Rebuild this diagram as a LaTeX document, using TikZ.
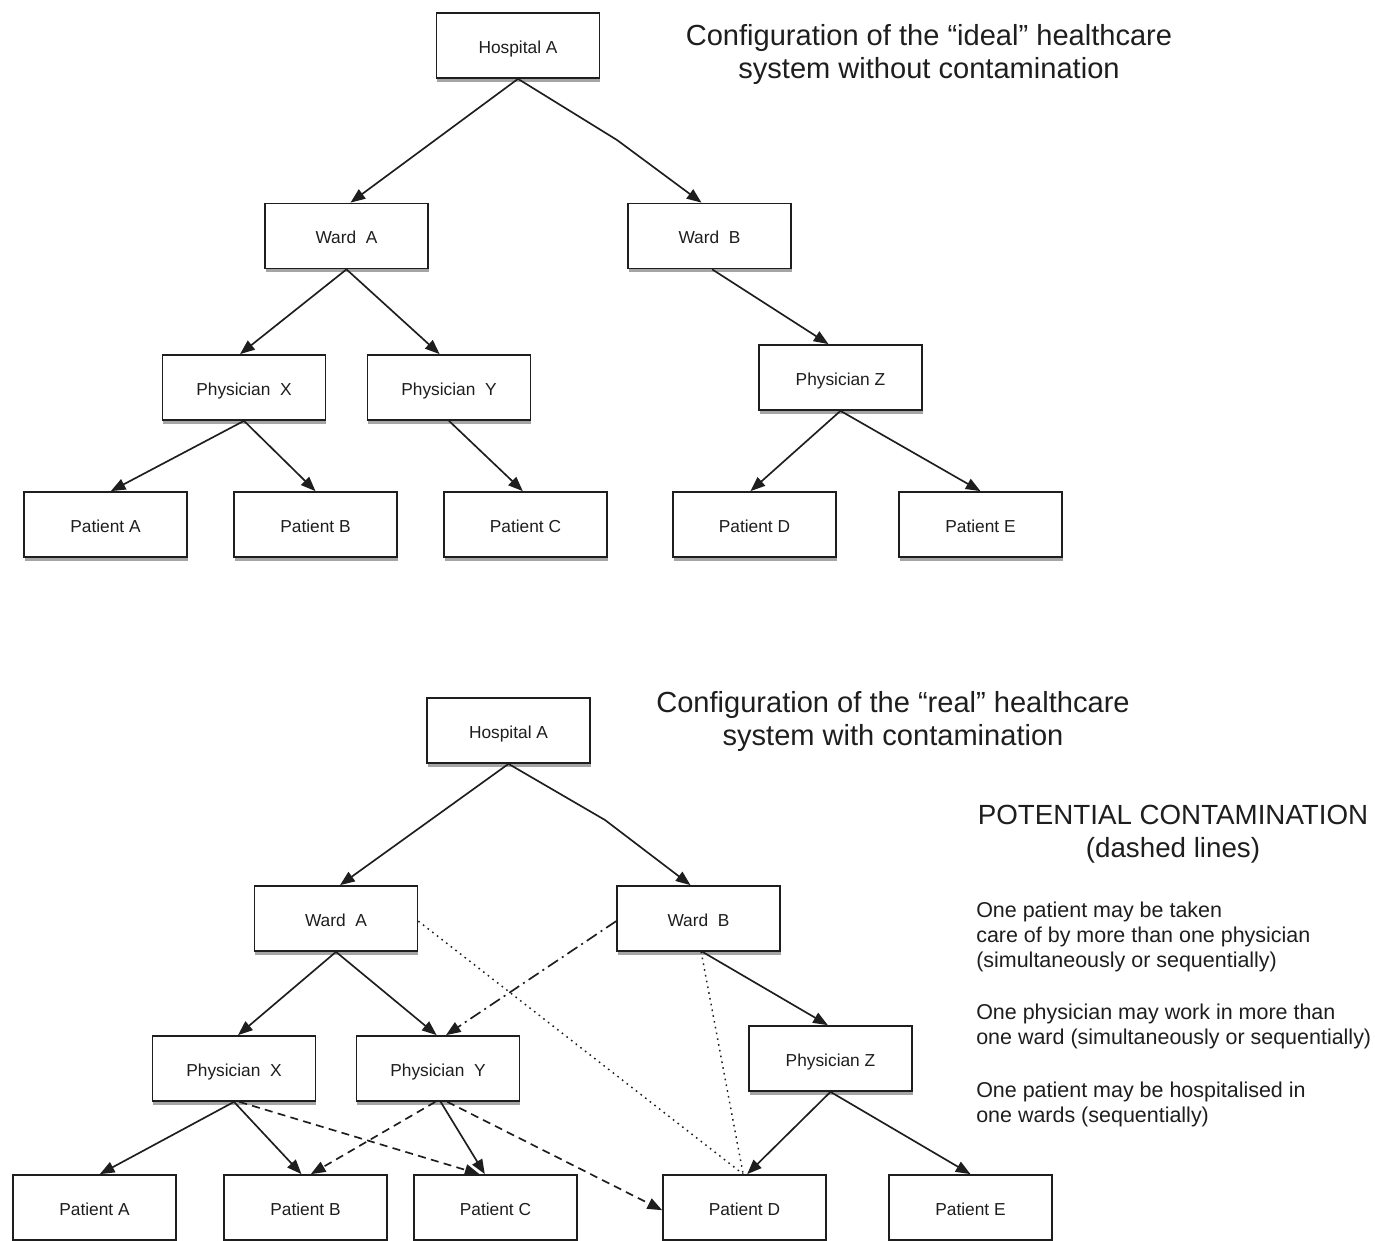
\documentclass[tikz,border=0pt]{standalone}
\usepackage{fontspec}
\setmainfont{Liberation Sans}
\usetikzlibrary{arrows.meta,shadows}
\definecolor{ink}{HTML}{1E1E1E}
\tikzset{
  box/.style={draw=ink, line width=1.3pt, fill=white, minimum width=122.25pt, minimum height=48.75pt,
    inner sep=0pt, text height=2.2ex, text depth=0pt, font=\fontsize{13}{15}\selectfont, text=ink,
    drop shadow={shadow xshift=0.6pt, shadow yshift=-3pt, fill=black!70, opacity=0.5}},
  link/.style={draw=ink, line width=1.25pt, -{Triangle[length=11pt,width=8.5pt]}},
  dashlink/.style={link, dash pattern=on 6pt off 4pt},
  dashdotlink/.style={link, dash pattern=on 9pt off 3.5pt on 1.5pt off 3.5pt},
  dotlink/.style={draw=ink, line width=1.1pt, dash pattern=on 1.2pt off 3.2pt},
  title/.style={font=\fontsize{21.8}{24.75}\selectfont, text=ink, align=center, inner sep=0pt},
  heading/.style={title, font=\fontsize{20.8}{24.75}\selectfont},
  note/.style={font=\fontsize{16.1}{18.75}\selectfont, text=ink, align=left, inner sep=0pt, anchor=north west},
}
\begin{document}
\begin{tikzpicture}[x=0.75pt,y=-0.75pt]
\useasboundingbox (0,0) rectangle (1375,1241);
% ---------- top diagram ----------
\node[box] (H1) at (518,45.5) {Hospital A};
\node[box] (WA1) at (346.5,236) {Ward\ \ A};
\node[box] (WB1) at (709.5,236) {Ward\ \ B};
\node[box] (PX1) at (244,387.5) {Physician\ \ X};
\node[box] (PY1) at (449,387.5) {Physician\ \ Y};
\node[box] (PZ1) at (840.5,377.5) {Physician Z};
\node[box] (PA1) at (105.5,524.5) {Patient A};
\node[box] (PB1) at (315.5,524.5) {Patient B};
\node[box] (PC1) at (525.5,524.5) {Patient C};
\node[box] (PD1) at (754.5,524.5) {Patient D};
\node[box] (PE1) at (980.5,524.5) {Patient E};
\coordinate (K1) at (617,140);
\node[title] (T1) at (929,54) {Configuration of the “ideal” healthcare\\system without contamination};

\draw[link] (H1.south) -- ([xshift=3pt]WA1.north);
\draw[link] (H1.south) -- (K1) -- ([xshift=-6pt]WB1.north);
\draw[link] (WA1.south) -- ([xshift=-3pt]PX1.north);
\draw[link] (WA1.south) -- ([xshift=-7pt]PY1.north);
\draw[link] ([xshift=2pt]WB1.south) -- ([xshift=-9pt]PZ1.north);
\draw[link] (PX1.south) -- ([xshift=4pt]PA1.north);
\draw[link] (PX1.south) -- (PB1.north);
\draw[link] (PY1.south) -- ([xshift=-2pt]PC1.north);
\draw[link] (PZ1.south) -- ([xshift=-3pt]PD1.north);
\draw[link] (PZ1.south) -- (PE1.north);

% ---------- bottom diagram ----------
\node[box] (H2) at (508.5,730.5) {Hospital A};
\node[box] (WA2) at (336,918.5) {Ward\ \ A};
\node[box] (WB2) at (698.5,918.5) {Ward\ \ B};
\node[box] (PX2) at (234,1068.5) {Physician\ \ X};
\node[box] (PY2) at (438,1068.5) {Physician\ \ Y};
\node[box] (PZ2) at (830.5,1058.5) {Physician Z};
\node[box] (PA2) at (94.5,1207.5) {Patient A};
\node[box] (PB2) at (305.5,1207.5) {Patient B};
\node[box] (PC2) at (495.5,1207.5) {Patient C};
\node[box] (PD2) at (744.5,1207.5) {Patient D};
\node[box] (PE2) at (970.5,1207.5) {Patient E};
\coordinate (K2) at (605,820);
\node[title] (T2) at (893,721) {Configuration of the “real” healthcare\\system with contamination};

\node[heading] (T3) at (1173,834) {POTENTIAL CONTAMINATION\\(dashed lines)};
\node[note] (N1) at (976,902) {One patient may be taken\\care of by more than one physician\\(simultaneously or sequentially)};
\node[note] (N2) at (976,1004) {One physician may work in more than\\one ward (simultaneously or sequentially)};
\node[note] (N3) at (976,1082) {One patient may be hospitalised in\\one wards (sequentially)};

\draw[link] (H2.south) -- ([xshift=3pt]WA2.north);
\draw[link] (H2.south) -- (K2) -- ([xshift=-6pt]WB2.north);
\draw[link] (WA2.south) -- ([xshift=3pt]PX2.north);
\draw[link] (WA2.south) -- ([xshift=-1pt]PY2.north);
\draw[link] ([xshift=3pt]WB2.south) -- ([xshift=-2pt]PZ2.north);
\draw[link] (PX2.south) -- ([xshift=4pt]PA2.north);
\draw[link] (PX2.south) -- ([xshift=-3pt]PB2.north);
\draw[link] ([xshift=2pt]PY2.south) -- ([xshift=-8pt]PC2.north);
\draw[link] (PZ2.south) -- ([xshift=2pt]PD2.north);
\draw[link] (PZ2.south) -- (PE2.north);
% contamination
\draw[dashdotlink] ([yshift=-2pt]WB2.west) -- ([xshift=6pt]PY2.north);
\draw[dashlink] ([xshift=4pt]PX2.south) -- ([xshift=-12pt]PC2.north);
\draw[dashlink] ([xshift=-2pt]PY2.south) -- ([xshift=4pt]PB2.north);
\draw[dashlink] ([xshift=7pt]PY2.south) -- ([yshift=-2pt]PD2.west);
\draw[dotlink] ([yshift=-2pt]WA2.east) -- ([xshift=-1pt]PD2.north);
\draw[dotlink] ([xshift=2pt]WB2.south) -- ([xshift=-1pt]PD2.north);
\end{tikzpicture}
\end{document}
